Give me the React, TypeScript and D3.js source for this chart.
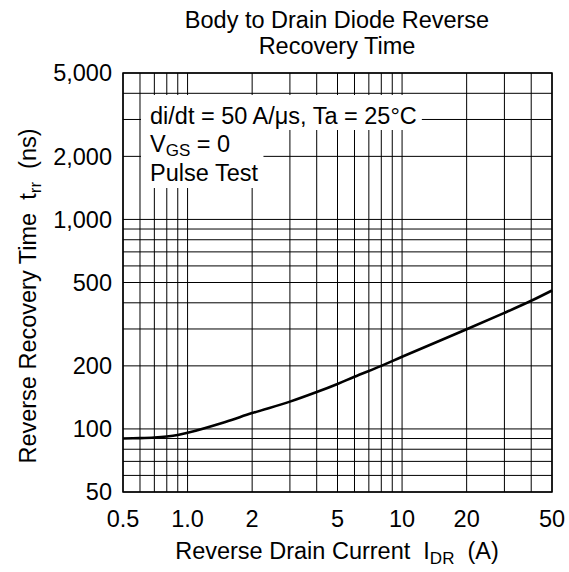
import React, { useLayoutEffect, useRef, useState } from "react";
import * as d3 from "d3";

const currentA = [0.5, 0.6, 0.7, 0.8, 0.9, 1.0, 1.5, 2, 3, 4, 5, 6, 8, 10, 20, 30, 40, 50];
const trrNs = [90, 90.4, 91, 92, 93.5, 95.8, 108, 119, 135, 150, 164, 177.5, 200, 221, 299, 358, 409, 458];

const xGrid = [0.5, 0.6, 0.7, 0.8, 0.9, 1, 2, 3, 4, 5, 6, 7, 8, 9, 10, 20, 30, 40, 50];
const yGrid = [50, 60, 70, 80, 90, 100, 200, 300, 400, 500, 600, 700, 800, 900, 1000, 2000, 3000, 4000, 5000];
const xTicks = [0.5, 1, 2, 5, 10, 20, 50];
const xTickLabels = ["0.5", "1.0", "2", "5", "10", "20", "50"];
const yTicks = [50, 100, 200, 500, 1000, 2000, 5000];
const yTickLabels = ["50", "100", "200", "500", "1,000", "2,000", "5,000"];

const titleLines = ["Body to Drain Diode Reverse", "Recovery Time"];

const FONT = "'Liberation Sans', Arial, sans-serif";
const FS = 23.5;
const SUB = 17;

export default function App() {
  const L = 123, R = 552, T = 73, B = 492;
  const x = d3.scaleLog().domain([0.5, 50]).range([L, R]);
  const y = d3.scaleLog().domain([50, 5000]).range([B, T]);
  const line = d3
    .line<number>()
    .x((_, i) => x(currentA[i]))
    .y((d) => y(d))
    .curve(d3.curveCatmullRom.alpha(0.5));

  const t1 = useRef<SVGTextElement>(null);
  const t2 = useRef<SVGTextElement>(null);
  const t3 = useRef<SVGTextElement>(null);
  const [w, setW] = useState({ a: 286, b: 126 });
  useLayoutEffect(() => {
    if (t1.current && t2.current && t3.current) {
      const b1 = t1.current.getBBox();
      const b2 = t2.current.getBBox();
      const b3 = t3.current.getBBox();
      setW({ a: b1.x + b1.width + 5 - 141, b: Math.max(b2.x + b2.width, b3.x + b3.width) + 5 - 141 });
    }
  }, []);

  return (
    <svg
      width={569}
      height={572}
      style={{ position: "absolute", left: 0, top: 0, background: "#fff" }}
      fontFamily={FONT}
    >
      <rect x={0} y={0} width={569} height={572} fill="#fff" />
      {titleLines.map((t, i) => (
        <text key={t} x={337} y={28 + i * 25.5} textAnchor="middle" fontSize={FS}>
          {t}
        </text>
      ))}
      <g stroke="#000" strokeWidth={1}>
        {xGrid.map((v) => (
          <line key={"x" + v} x1={x(v)} x2={x(v)} y1={T} y2={B} />
        ))}
        {yGrid.map((v) => (
          <line key={"y" + v} x1={L} x2={R} y1={y(v)} y2={y(v)} />
        ))}
      </g>
      <rect x={141} y={95} width={w.a} height={35} fill="#fff" />
      <rect x={141} y={130} width={w.b} height={58} fill="#fff" />
      <g fontSize={FS}>
        <text ref={t1} x={150} y={124}>di/dt = 50 A/μs, Ta = 25°C</text>
        <text ref={t2} x={150} y={152}>
          V<tspan fontSize={SUB} dy={4}>GS</tspan>
          <tspan dy={-4}> = 0</tspan>
        </text>
        <text ref={t3} x={150} y={181}>Pulse Test</text>
      </g>
      <path d={line(trrNs) || ""} fill="none" stroke="#000" strokeWidth={2.6} />
      <rect x={L} y={T} width={R - L} height={B - T} fill="none" stroke="#000" strokeWidth={1.5} />
      <g fontSize={FS}>
        {yTicks.map((v, i) => (
          <text key={v} x={112} y={y(v)} dy="0.35em" textAnchor="end">
            {yTickLabels[i]}
          </text>
        ))}
        {xTicks.map((v, i) => (
          <text key={v} x={x(v)} y={527} textAnchor="middle">
            {xTickLabels[i]}
          </text>
        ))}
        <text x={337} y={559} textAnchor="middle" style={{ whiteSpace: "pre" }}>
          {"Reverse Drain Current  I"}
          <tspan fontSize={SUB} dy={5}>DR</tspan>
          <tspan dy={-5}>{"  (A)"}</tspan>
        </text>
        <text
          transform="translate(36,296) rotate(-90)"
          textAnchor="middle"
          style={{ whiteSpace: "pre" }}
        >
          {"Reverse Recovery Time  t"}
          <tspan fontSize={SUB} dy={5}>rr</tspan>
          <tspan dy={-5}>{"  (ns)"}</tspan>
        </text>
      </g>
    </svg>
  );
}
